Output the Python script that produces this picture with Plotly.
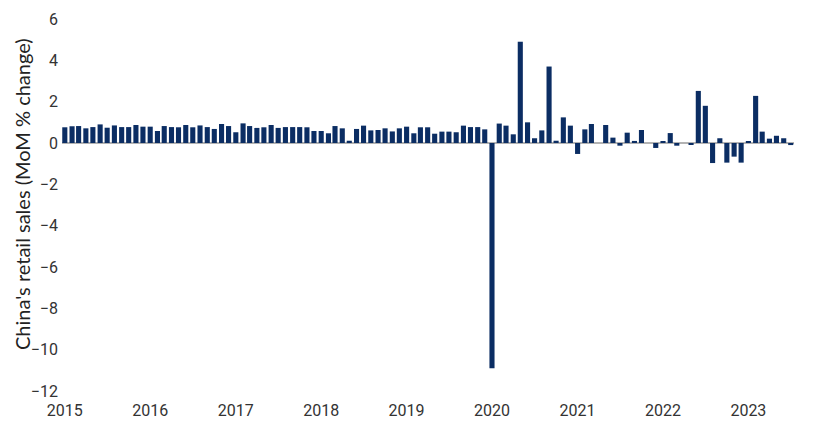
import pandas as pd
import plotly.graph_objects as go

# monthly retail sales, MoM % change, Jan 2015 .. Jul 2023
months = pd.date_range("2015-01-01", "2023-07-01", freq="MS")
mom_change = [
    # 2015 - mid 2016
    0.76, 0.81, 0.82, 0.71, 0.77, 0.90, 0.74, 0.85, 0.77, 0.77, 0.87, 0.79,
    0.79, 0.58, 0.82, 0.77, 0.76,
    0.87, 0.76, 0.85, 0.77, 0.68, 0.92, 0.82, 0.52, 0.95, 0.82, 0.73, 0.76,
    0.87, 0.73, 0.77,
    0.77, 0.77, 0.76, 0.58, 0.58, 0.47, 0.82, 0.71, 0.11, 0.68, 0.84, 0.61,
    0.63, 0.71, 0.56, 0.71, 0.79,
    0.47, 0.76, 0.76, 0.45, 0.55, 0.55, 0.52, 0.84, 0.77, 0.77, 0.66,
    # 2020
    -10.9, 0.94, 0.84, 0.42, 4.9, 1.0, 0.23, 0.61, 3.7, 0.11, 1.24, 0.84,
    # 2021
    -0.53, 0.66, 0.92, 0.0, 0.87, 0.26, -0.13, 0.5, 0.1, 0.63, 0.0, -0.24,
    # 2022
    0.05, 0.48, -0.13, 0.0, -0.08, 2.52, 1.8, -0.97, 0.23, -0.95, -0.66, -0.95,
    # 2023
    0.08, 2.28, 0.55, 0.21, 0.35, 0.23, -0.1,
]
year_ticks = pd.date_range("2015-01-01", "2023-01-01", freq="YS")
year_labels = [str(d.year) for d in year_ticks]
y_title = "China's retail sales (MoM % change)"

fig = go.Figure()
fig.add_trace(go.Bar(
    x=months, y=mom_change,
    marker=dict(color="#0b2d63", line=dict(width=0)),
))

fig.update_layout(
    width=820, height=444,
    margin=dict(l=54, r=34, t=11, b=61),
    plot_bgcolor="white", paper_bgcolor="white",
    bargap=0.22,
    showlegend=False,
    font=dict(family="Liberation Sans Narrow, Roboto, sans-serif", color="#333333"),
)
fig.update_xaxes(
    range=["2014-12-20", "2023-07-15"],
    tickvals=year_ticks, ticktext=year_labels,
    showgrid=False, showline=False, zeroline=False,
    ticks="", ticklabelstandoff=8, automargin=False,
    tickfont=dict(size=16),
)
fig.update_yaxes(
    range=[-12, 6], dtick=2,
    showgrid=False, showline=False,
    zeroline=True, zerolinecolor="#b3b3b3", zerolinewidth=2,
    ticks="", ticklabelstandoff=3, automargin=False,
    tickfont=dict(size=16),
)
# axis title as a rotated annotation so it can sit a little above centre
fig.add_annotation(
    text=y_title, textangle=-90,
    xref="paper", yref="paper", x=0, y=0.5,
    xanchor="center", yanchor="middle",
    xshift=-40, yshift=11, showarrow=False,
    font=dict(family="Lato, sans-serif", size=20, color="#222222"),
)

fig.write_html("out.html")
